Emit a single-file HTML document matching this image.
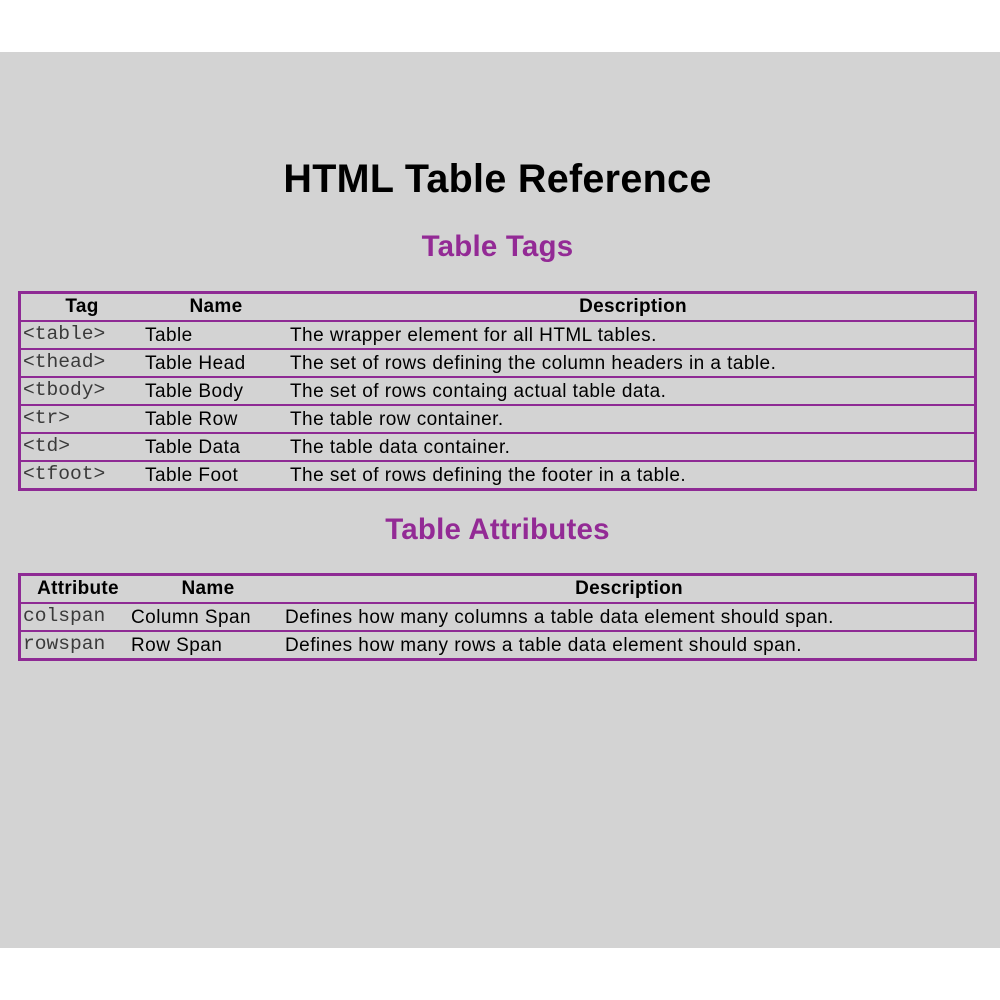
<!DOCTYPE html>
<html><head><meta charset="utf-8"><style>
*{margin:0;padding:0;box-sizing:border-box}
body{width:1000px;height:1000px;background:#fff;position:relative;font-family:"Liberation Sans",sans-serif;overflow:hidden}
#bg{position:absolute;left:0;top:52px;width:1000px;height:896px;background:#d3d3d3}
h1{position:absolute;left:0;width:995px;top:157px;text-align:center;font-size:39.5px;font-weight:bold;color:#000;letter-spacing:0.3px}
h2{position:absolute;left:0;width:995px;text-align:center;font-size:29.5px;font-weight:bold;color:#932a95;letter-spacing:0.2px}
.tbl{position:absolute;left:18px;width:959px;border:3px solid #8e2a94}
.row{position:relative;height:28px;border-top:2px solid #8e2a94;font-size:19px;color:#000;letter-spacing:0.45px}
.row:first-child{border-top:none;height:26px}
.c{position:absolute;top:1px;line-height:26px;white-space:nowrap}
.h{font-weight:bold;text-align:center;letter-spacing:0.3px;top:0}
.m{font-family:"Liberation Mono",monospace;color:#3a3a3a;font-size:19.6px;letter-spacing:0;top:-1px}
</style></head><body>
<div id="bg"></div>
<h1>HTML Table Reference</h1>
<h2 style="top:230px">Table Tags</h2>
<div class="tbl" style="top:291px">
 <div class="row">
  <div class="c h" style="left:0;width:122px">Tag</div>
  <div class="c h" style="left:122px;width:146px">Name</div>
  <div class="c h" style="left:268px;width:688px">Description</div>
 </div>
 <div class="row"><div class="c m" style="left:2px">&lt;table&gt;</div><div class="c" style="left:124px">Table</div><div class="c" style="left:269px">The wrapper element for all HTML tables.</div></div>
 <div class="row"><div class="c m" style="left:2px">&lt;thead&gt;</div><div class="c" style="left:124px">Table Head</div><div class="c" style="left:269px">The set of rows defining the column headers in a table.</div></div>
 <div class="row"><div class="c m" style="left:2px">&lt;tbody&gt;</div><div class="c" style="left:124px">Table Body</div><div class="c" style="left:269px">The set of rows containg actual table data.</div></div>
 <div class="row"><div class="c m" style="left:2px">&lt;tr&gt;</div><div class="c" style="left:124px">Table Row</div><div class="c" style="left:269px">The table row container.</div></div>
 <div class="row"><div class="c m" style="left:2px">&lt;td&gt;</div><div class="c" style="left:124px">Table Data</div><div class="c" style="left:269px">The table data container.</div></div>
 <div class="row"><div class="c m" style="left:2px">&lt;tfoot&gt;</div><div class="c" style="left:124px">Table Foot</div><div class="c" style="left:269px">The set of rows defining the footer in a table.</div></div>
</div>
<h2 style="top:513px">Table Attributes</h2>
<div class="tbl" style="top:573px">
 <div class="row">
  <div class="c h" style="left:0;width:114px">Attribute</div>
  <div class="c h" style="left:114px;width:146px">Name</div>
  <div class="c h" style="left:260px;width:696px">Description</div>
 </div>
 <div class="row"><div class="c m" style="left:2px">colspan</div><div class="c" style="left:110px">Column Span</div><div class="c" style="left:264px">Defines how many columns a table data element should span.</div></div>
 <div class="row"><div class="c m" style="left:2px">rowspan</div><div class="c" style="left:110px">Row Span</div><div class="c" style="left:264px">Defines how many rows a table data element should span.</div></div>
</div>
</body></html>
